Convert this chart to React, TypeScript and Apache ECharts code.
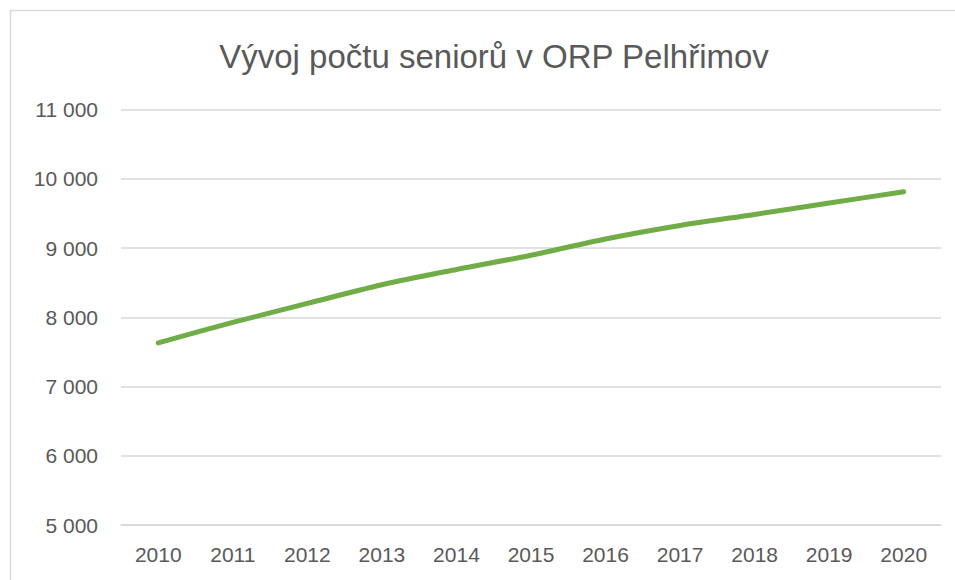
import React, { useEffect, useRef } from "react";
import * as echarts from "echarts";

const titleText = "Vývoj počtu seniorů v ORP Pelhřimov";
const years = ["2010", "2011", "2012", "2013", "2014", "2015", "2016", "2017", "2018", "2019", "2020"];
const seniors = [7630, 7925, 8200, 8470, 8690, 8895, 9130, 9325, 9485, 9650, 9812];
const yMin = 5000;
const yMax = 11000;
const yStep = 1000;

const fmt = (v: number) => {
  const s = String(Math.round(v));
  return s.replace(/\B(?=(\d{3})+(?!\d))/g, " ");
};

export default function App() {
  const ref = useRef<HTMLDivElement>(null);
  useEffect(() => {
    if (!ref.current) return;
    const chart = echarts.init(ref.current, undefined, { renderer: "svg" });
    const font = "'Liberation Sans', Arial, sans-serif";
    chart.setOption({
      animation: false,
      backgroundColor: "#ffffff",
      title: {
        text: titleText,
        left: 489,
        textAlign: "center",
        top: 35,
        textStyle: { fontFamily: font, fontSize: 33, fontWeight: "normal", color: "#595959" },
      },
      graphic: [
        {
          type: "rect",
          shape: { x: 10.5, y: 10.5, width: 1000, height: 1000 },
          style: { fill: "none", stroke: "#d9d9d9", lineWidth: 1.5 },
          silent: true,
        },
      ],
      grid: { left: 121, right: 14, top: 109.5, bottom: 55, containLabel: false },
      xAxis: {
        type: "category",
        data: years,
        boundaryGap: true,
        axisLine: { show: true, lineStyle: { color: "#d9d9d9", width: 1.5 } },
        axisTick: { show: false },
        axisLabel: { fontFamily: font, fontSize: 21, color: "#595959", margin: 19 },
      },
      yAxis: {
        type: "value",
        min: yMin,
        max: yMax,
        interval: yStep,
        axisLine: { show: false },
        axisTick: { show: false },
        splitLine: { lineStyle: { color: "#d9d9d9", width: 1.5 } },
        axisLabel: { fontFamily: font, fontSize: 21, color: "#595959", margin: 23, formatter: fmt },
      },
      series: [
        {
          type: "line",
          data: seniors,
          smooth: 0.3,
          symbol: "none",
          lineStyle: { color: "#70ad47", width: 5, cap: "round", join: "round" },
        },
      ],
    });
    return () => chart.dispose();
  }, []);
  return (
    <div
      ref={ref}
      style={{ position: "absolute", left: 0, top: 0, width: 955, height: 580 }}
    />
  );
}
